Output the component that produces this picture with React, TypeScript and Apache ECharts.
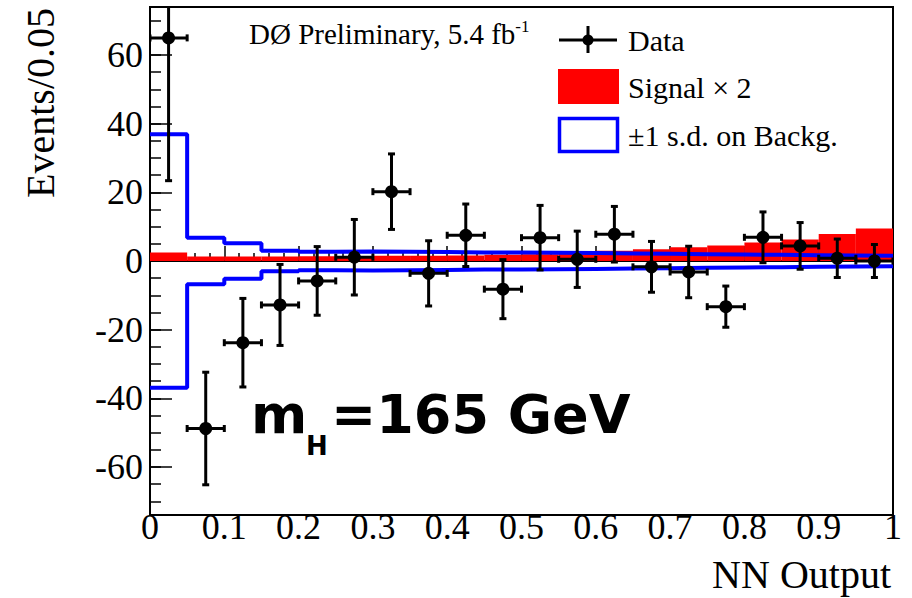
import React, { useEffect, useRef } from "react";
import * as echarts from "echarts";

// NN output bins (width 0.05), background-subtracted data
const binCenters = [
  0.025, 0.075, 0.125, 0.175, 0.225, 0.275, 0.325, 0.375, 0.425, 0.475,
  0.525, 0.575, 0.625, 0.675, 0.725, 0.775, 0.825, 0.875, 0.925, 0.975,
];
const binWidth = 0.05;

const dataValues = [
  65.0, -48.8, -23.8, -12.8, -5.8, 1.1, 20.2, -3.6, 7.5, -8.2,
  6.8, 0.5, 7.8, -1.7, -3.2, -13.3, 6.9, 4.4, 0.8, 0.0,
];
const dataErrors = [
  41.6, 16.4, 12.9, 11.8, 10.0, 11.0, 11.0, 9.5, 9.1, 8.6,
  9.4, 8.2, 8.1, 7.4, 7.5, 6.0, 7.4, 6.8, 5.6, 4.8,
];
// Expected signal (scaled by 2)
const signalX2 = [
  2.5, 1.3, 1.3, 1.3, 1.4, 1.4, 1.5, 1.5, 1.6, 1.8,
  2.0, 2.6, 3.0, 3.4, 4.0, 4.5, 5.4, 6.3, 7.9, 9.5,
];
// +-1 standard deviation on the background prediction
const backgroundSd = [
  36.9, 6.8, 5.2, 3.0, 2.7, 2.8, 2.7, 2.6, 2.5, 2.5,
  2.4, 2.3, 2.2, 2.1, 2.0, 1.9, 1.8, 1.7, 1.6, 1.5,
];

const yMajorTicks = [-60, -40, -20, 0, 20, 40, 60];
const yMinorTicks = [
  -70, -65, -60, -55, -50, -45, -40, -35, -30, -25, -20, -15, -10, -5, 0,
  5, 10, 15, 20, 25, 30, 35, 40, 45, 50, 55, 60, 65, 70,
];

const SERIF = "'Liberation Serif', 'Times New Roman', serif";
const BOLD_SANS = "'DejaVu Sans', sans-serif";
const RED = "#ff0000";
const BLUE = "#0000ff";

// step line through bin edges: each bin's value held across its width
function stepData(values: number[], sign: number): number[][] {
  const pts = binCenters.map((c, i) => [c - binWidth / 2, sign * values[i]]);
  const last = binCenters[binCenters.length - 1] + binWidth / 2;
  pts.push([last, sign * values[values.length - 1]]);
  return pts;
}

export default function App() {
  const ref = useRef<HTMLDivElement>(null);

  useEffect(() => {
    if (!ref.current) return;
    const chart = echarts.init(ref.current, null, { renderer: "svg" });

    const option: any = {
      animation: false,
      backgroundColor: "#ffffff",
      grid: {
        left: 150,
        right: 19,
        top: 7,
        bottom: 83,
        show: true,
        borderColor: "#000",
        borderWidth: 2,
        backgroundColor: "transparent",
      },
      xAxis: {
        type: "value",
        min: 0,
        max: 1,
        interval: 0.1,
        axisLine: { show: true, lineStyle: { color: "#000", width: 2 } },
        axisTick: { show: true, inside: true, length: 15, lineStyle: { color: "#000", width: 1.5 } },
        minorTick: { show: true, splitNumber: 5, length: 8, lineStyle: { color: "#000", width: 1.5 } },
        splitLine: { show: false },
        axisLabel: {
          color: "#000",
          fontFamily: SERIF,
          fontSize: 36,
          margin: -6,
          formatter: (v: number) => String(Math.round(v * 10) / 10),
        },
      },
      yAxis: [
        {
          type: "value",
          min: -74,
          max: 74,
          axisLine: { show: true, lineStyle: { color: "#000", width: 2 } },
          axisTick: {
            show: true,
            inside: true,
            length: 22,
            customValues: yMajorTicks,
            lineStyle: { color: "#000", width: 1.5 },
          },
          splitLine: { show: false },
          axisLabel: {
            color: "#000",
            fontFamily: SERIF,
            fontSize: 36,
            margin: 7,
            customValues: yMajorTicks,
          },
        },
        {
          type: "value",
          min: -74,
          max: 74,
          position: "left",
          axisLine: { show: false },
          axisTick: {
            show: true,
            inside: true,
            length: 11,
            customValues: yMinorTicks,
            lineStyle: { color: "#000", width: 1.5 },
          },
          splitLine: { show: false },
          axisLabel: { show: false },
        },
      ],
      series: [
        {
          name: "Signal × 2",
          type: "custom",
          clip: true,
          data: binCenters.map((c, i) => [c, signalX2[i]]),
          renderItem: (params: any, api: any) => {
            const x = api.value(0);
            const s = api.value(1);
            const p0 = api.coord([x - binWidth / 2, s]);
            const p1 = api.coord([x + binWidth / 2, 0]);
            return {
              type: "rect",
              shape: { x: p0[0], y: p0[1], width: p1[0] - p0[0], height: p1[1] - p0[1] },
              style: { fill: RED },
            };
          },
          z: 2,
        },
        {
          name: "±1 s.d. on Backg.",
          type: "line",
          step: "end",
          data: stepData(backgroundSd, 1),
          symbol: "none",
          lineStyle: { color: BLUE, width: 4 },
          z: 3,
        },
        {
          name: "±1 s.d. on Backg. (low)",
          type: "line",
          step: "end",
          data: stepData(backgroundSd, -1),
          symbol: "none",
          lineStyle: { color: BLUE, width: 4 },
          z: 3,
        },
        {
          name: "Data",
          type: "custom",
          clip: true,
          data: binCenters.map((c, i) => [c, dataValues[i], dataErrors[i]]),
          renderItem: (params: any, api: any) => {
            const x = api.value(0);
            const y = api.value(1);
            const e = api.value(2);
            const cs = params.coordSys;
            const c = api.coord([x, y]);
            const xl = api.coord([x - binWidth / 2, y])[0];
            const xr = api.coord([x + binWidth / 2, y])[0];
            let yt = api.coord([x, y + e])[1];
            let yb = api.coord([x, y - e])[1];
            const topClipped = yt < cs.y;
            const botClipped = yb > cs.y + cs.height;
            yt = Math.max(yt, cs.y);
            yb = Math.min(yb, cs.y + cs.height);
            const cap = 3.5;
            const ls = { stroke: "#000", lineWidth: 3 };
            const children: any[] = [
              { type: "line", shape: { x1: c[0], y1: yt, x2: c[0], y2: yb }, style: ls },
              { type: "line", shape: { x1: xl, y1: c[1], x2: xr, y2: c[1] }, style: ls },
              { type: "line", shape: { x1: xl, y1: c[1] - cap, x2: xl, y2: c[1] + cap }, style: ls },
              { type: "line", shape: { x1: xr, y1: c[1] - cap, x2: xr, y2: c[1] + cap }, style: ls },
            ];
            if (!topClipped)
              children.push({ type: "line", shape: { x1: c[0] - cap, y1: yt, x2: c[0] + cap, y2: yt }, style: ls });
            if (!botClipped)
              children.push({ type: "line", shape: { x1: c[0] - cap, y1: yb, x2: c[0] + cap, y2: yb }, style: ls });
            children.push({ type: "circle", shape: { cx: c[0], cy: c[1], r: 6.5 }, style: { fill: "#000" } });
            return { type: "group", children };
          },
          z: 4,
        },
      ],
      graphic: [
        // axis titles
        {
          type: "text",
          x: 40,
          y: 103,
          rotation: Math.PI / 2,
          style: {
            text: "Events/0.05",
            fontFamily: SERIF,
            fontSize: 40,
            fill: "#000",
            align: "center",
            verticalAlign: "middle",
          },
        },
        {
          type: "text",
          x: 891,
          y: 574,
          style: {
            text: "NN Output",
            fontFamily: SERIF,
            fontSize: 40,
            fill: "#000",
            align: "right",
            verticalAlign: "middle",
          },
        },
        // experiment label
        {
          type: "text",
          x: 249,
          y: 34,
          style: {
            text: "DØ Preliminary, 5.4 fb{sup|-1}",
            fontFamily: SERIF,
            fontSize: 29,
            fill: "#000",
            align: "left",
            verticalAlign: "middle",
            rich: {
              sup: { fontFamily: SERIF, fontSize: 17, fill: "#000", padding: [0, 0, 15, 0] },
            },
          },
        },
        // legend: Data
        { type: "line", shape: { x1: 559, y1: 40, x2: 617, y2: 40 }, style: { stroke: "#000", lineWidth: 3 } },
        { type: "line", shape: { x1: 588, y1: 26, x2: 588, y2: 53 }, style: { stroke: "#000", lineWidth: 3 } },
        { type: "circle", shape: { cx: 588, cy: 40, r: 5.5 }, style: { fill: "#000" } },
        {
          type: "text",
          x: 628,
          y: 40,
          style: { text: "Data", fontFamily: SERIF, fontSize: 30, fill: "#000", verticalAlign: "middle" },
        },
        // legend: signal
        { type: "rect", shape: { x: 558, y: 69, width: 61, height: 35 }, style: { fill: RED } },
        {
          type: "text",
          x: 628,
          y: 87,
          style: { text: "Signal × 2", fontFamily: SERIF, fontSize: 30, fill: "#000", verticalAlign: "middle" },
        },
        // legend: background uncertainty
        {
          type: "rect",
          shape: { x: 559.5, y: 118.5, width: 58, height: 33 },
          style: { fill: "#fff", stroke: BLUE, lineWidth: 3.5 },
        },
        {
          type: "text",
          x: 628,
          y: 135,
          style: {
            text: "±1 s.d. on Backg.",
            fontFamily: SERIF,
            fontSize: 30,
            fill: "#000",
            verticalAlign: "middle",
          },
        },
        // Higgs mass label
        {
          type: "text",
          x: 251,
          y: 414,
          style: { text: "m", fontFamily: BOLD_SANS, fontWeight: "bold", fontSize: 54, fill: "#000", verticalAlign: "middle" },
        },
        {
          type: "text",
          x: 306,
          y: 446,
          style: { text: "H", fontFamily: BOLD_SANS, fontWeight: "bold", fontSize: 26, fill: "#000", verticalAlign: "middle" },
        },
        {
          type: "text",
          x: 331,
          y: 414,
          style: {
            text: "=165 GeV",
            fontFamily: BOLD_SANS,
            fontWeight: "bold",
            fontSize: 54,
            fill: "#000",
            verticalAlign: "middle",
          },
        },
      ],
    };

    chart.setOption(option);
    return () => chart.dispose();
  }, []);

  return (
    <div
      ref={ref}
      style={{ position: "fixed", left: 0, top: 0, width: 912, height: 598, background: "#fff" }}
    />
  );
}
